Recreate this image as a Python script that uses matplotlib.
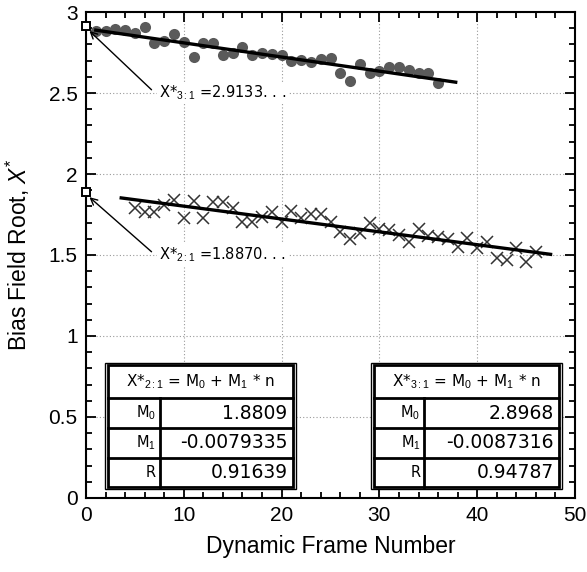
import numpy as np
import matplotlib
matplotlib.use("Agg")
import matplotlib.pyplot as plt
from matplotlib.patches import Rectangle
from matplotlib.ticker import MultipleLocator

plt.rcParams['font.family'] = ['Liberation Sans', 'DejaVu Sans']
plt.rcParams['mathtext.fontset'] = 'custom'
plt.rcParams['mathtext.rm'] = 'Liberation Sans'
plt.rcParams['mathtext.it'] = 'Liberation Sans:italic'

# 3:1 ratio series (grey circles)
n31 = np.arange(1, 37)
x31 = [2.885, 2.885, 2.893, 2.889, 2.872, 2.910, 2.807, 2.823, 2.864, 2.813,
       2.724, 2.807, 2.807, 2.735, 2.745, 2.786, 2.735, 2.745, 2.738, 2.735,
       2.700, 2.704, 2.693, 2.708, 2.714, 2.626, 2.576, 2.679, 2.626, 2.638,
       2.659, 2.659, 2.642, 2.621, 2.626, 2.564]

# 2:1 ratio series (crosses)
n21 = np.arange(5, 47)
x21 = [1.792, 1.767, 1.767, 1.809, 1.840, 1.730, 1.833, 1.730, 1.825, 1.825,
       1.792, 1.706, 1.702, 1.737, 1.767, 1.706, 1.772, 1.727, 1.751, 1.751,
       1.706, 1.644, 1.599, 1.634, 1.696, 1.660, 1.654, 1.623, 1.578, 1.660,
       1.619, 1.613, 1.599, 1.551, 1.607, 1.541, 1.583, 1.480, 1.469, 1.541,
       1.455, 1.520]

# linear fits X* = M0 + M1 * n
fit21 = {"M0": 1.8809, "M1": -0.0079335, "R": 0.91639}
fit31 = {"M0": 2.8968, "M1": -0.0087316, "R": 0.94787}
fit21_range = [3.6, 47.5]
fit31_range = [1.0, 37.8]

root21 = 1.8870
root31 = 2.9133
root21_label = "1.8870. . ."
root31_label = "2.9133. . ."

fig = plt.figure(figsize=(5.87, 5.72), dpi=100)
ax = fig.add_axes([0.1465, 0.1294, 0.8331, 0.8496])

ax.set_xlim(0, 50)
ax.set_ylim(0, 3)
ax.xaxis.set_major_locator(MultipleLocator(10))
ax.xaxis.set_minor_locator(MultipleLocator(2))
ax.yaxis.set_major_locator(MultipleLocator(0.5))
ax.yaxis.set_minor_locator(MultipleLocator(0.1))
ax.tick_params(which='both', direction='in', top=True, right=True, width=1.3)
ax.tick_params(which='major', length=7, labelsize=15, pad=6)
ax.tick_params(which='minor', length=4)
ax.set_yticks([0, 0.5, 1, 1.5, 2, 2.5, 3])
ax.set_yticklabels(['0', '0.5', '1', '1.5', '2', '2.5', '3'])
for s in ax.spines.values():
    s.set_linewidth(1.5)
ax.grid(True, which='major', linestyle=(0, (1, 2)), color='#999999', linewidth=0.8)
ax.set_axisbelow(True)

ax.set_xlabel('Dynamic Frame Number', fontsize=16.5, labelpad=7)
ax.set_ylabel('Bias Field Root, $\\mathit{X}^{*}$', fontsize=16.5, labelpad=12)

# data
ax.plot(n31, x31, 'o', color='#5a5a5a', markersize=8, markeredgewidth=0, zorder=3)
ax.plot(n21, x21, 'x', color='#333333', markersize=9, markeredgewidth=1.1, zorder=3)

for fit, rng in [(fit21, fit21_range), (fit31, fit31_range)]:
    xs = np.array(rng)
    ax.plot(xs, fit["M0"] + fit["M1"] * xs, color='black', linewidth=2.4, zorder=4)

# roots on the axis
ax.plot([0, 0], [root21, root31], 's', markerfacecolor='white', markeredgecolor='black',
        markersize=6, markeredgewidth=1.4, clip_on=False, zorder=6)

pix_font = 'DejaVu Sans'
for root, lab, sub, ty in [(root31, root31_label, '3:1', 2.5), (root21, root21_label, '2:1', 1.5)]:
    ax.annotate('', xy=(0.35, root - 0.03), xytext=(6.7, ty + 0.02),
                arrowprops=dict(arrowstyle='->', color='black', lw=1.0,
                                shrinkA=0, shrinkB=0, mutation_scale=12), zorder=5)
    ax.text(7.5, ty, 'X*$_{' + sub + '}$ =' + lab, fontsize=10.5, family=pix_font,
            va='center', ha='left',
            bbox=dict(facecolor='white', edgecolor='none', pad=1.5), zorder=5)


def draw_table(x0, x1, xs, fit, sub):
    y_top, y_bot = 0.821, 0.068
    rows = [0.821, 0.617, 0.432, 0.247, 0.068]
    ax.add_patch(Rectangle((x0 - 0.25, y_bot - 0.015), x1 - x0 + 0.5, y_top - y_bot + 0.03,
                           facecolor='white', edgecolor='black', lw=1.0, zorder=5))
    ax.add_patch(Rectangle((x0, y_bot), x1 - x0, y_top - y_bot,
                           facecolor='white', edgecolor='black', lw=2.0, zorder=5))
    for yy in rows[1:-1]:
        ax.plot([x0, x1], [yy, yy], color='black', lw=2.0, zorder=6)
    ax.plot([xs, xs], [rows[1], y_bot], color='black', lw=2.0, zorder=6)
    ax.text((x0 + x1) / 2, (rows[0] + rows[1]) / 2,
            'X*$_{' + sub + '}$ = M$_0$ + M$_1$ * n', family=pix_font,
            fontsize=11, ha='center', va='center', zorder=7)
    names = ['M$_0$', 'M$_1$', 'R']
    vals = [fit["M0"], fit["M1"], fit["R"]]
    fmts = ['{:.4f}', '{:.7f}', '{:.5f}']
    for i in range(3):
        yc = (rows[i + 1] + rows[i + 2]) / 2
        ax.text(xs - 0.4, yc, names[i], family=pix_font, fontsize=10.5,
                ha='right', va='center', zorder=7)
        ax.text(x1 - 0.6, yc, fmts[i].format(vals[i]), family=pix_font, fontsize=13.5,
                ha='right', va='center', zorder=7)


draw_table(2.24, 21.2, 7.55, fit21, '2:1')
draw_table(29.4, 48.4, 34.6, fit31, '3:1')

fig.savefig('out.png', dpi=100)
